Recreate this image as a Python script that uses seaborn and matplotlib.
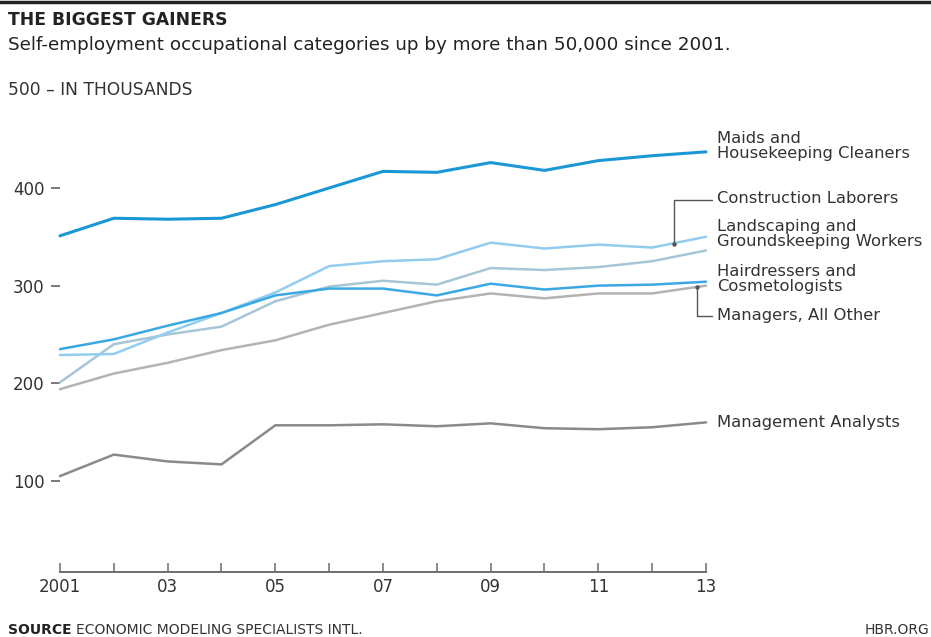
import matplotlib
matplotlib.use("Agg")
import matplotlib.pyplot as plt
from matplotlib.lines import Line2D
import pandas as pd
import seaborn as sns

# Self-employment by occupation, thousands
years = list(range(2001, 2014))
maids = [351, 369, 368, 369, 383, 400, 417, 416, 426, 418, 428, 433, 437]
construction = [229, 230, 252, 272, 293, 320, 325, 327, 344, 338, 342, 339, 350]
landscaping = [201, 240, 250, 258, 284, 299, 305, 301, 318, 316, 319, 325, 336]
hairdressers = [235, 245, 259, 272, 290, 297, 297, 290, 302, 296, 300, 301, 304]
managers_other = [194, 210, 221, 234, 244, 260, 272, 284, 292, 287, 292, 292, 300]
mgmt_analysts = [105, 127, 120, 117, 157, 157, 158, 156, 159, 154, 153, 155, 160]

series_names = ["Management Analysts", "Managers, All Other", "Landscaping and\nGroundskeeping Workers",
                "Construction Laborers", "Hairdressers and\nCosmetologists",
                "Maids and\nHousekeeping Cleaners"]
series_values = [mgmt_analysts, managers_other, landscaping, construction, hairdressers, maids]
series_colors = ["#8a8a8a", "#b3b3b3", "#a6c6d6", "#92ccef", "#3aa8e2", "#1a98d5"]
series_widths = [1.8, 1.8, 1.8, 1.8, 1.8, 2.2]

x_labels = ["2001", "", "03", "", "05", "", "07", "", "09", "", "11", "", "13"]
y_ticks = [100, 200, 300, 400]

# y-position (px from top) of each right-hand label, in series order
label_px = [422, 316, 234, 199, 279, 146]

df = pd.DataFrame({
    "year": [y for vals in series_values for y in years],
    "value": [v for vals in series_values for v in vals],
    "series": [n for n, vals in zip(series_names, series_values) for _ in vals],
})

sns.set_style("white")
plt.rcParams["font.family"] = ["DejaVu Sans"]

W, H = 931, 637
fig = plt.figure(figsize=(W / 100, H / 100), dpi=100)
ax = fig.add_axes([60 / W, 1 - 572 / H, (706 - 60) / W, (572 - 90.3) / H])


def fx(px):
    return px / W


def fy(py):
    return 1 - py / H


sns.lineplot(data=df, x="year", y="value", hue="series", hue_order=series_names,
             palette=dict(zip(series_names, series_colors)), legend=False, ax=ax)
for line, lw in zip(ax.lines, series_widths):
    line.set_linewidth(lw)
    line.set_clip_on(False)
    line.set_solid_joinstyle("round")

ax.set_xlim(2001, 2013)
ax.set_ylim(6.8, 500)
ax.set_xticks(years)
ax.set_xticklabels(x_labels)
ax.set_yticks(y_ticks)
ax.set_yticklabels([str(v) for v in y_ticks])
ax.set_xlabel("")
ax.set_ylabel("")
for s in ["top", "right", "left"]:
    ax.spines[s].set_visible(False)
ax.spines["bottom"].set_color("#6e6e6e")
ax.spines["bottom"].set_linewidth(1.4)
ax.tick_params(axis="x", bottom=True, direction="in", length=6.5, width=1.1, color="#6e6e6e",
               labelsize=12, labelcolor="#333333", pad=4)
ax.tick_params(axis="y", left=True, direction="out", length=6.5, width=1.1, color="#555555",
               labelsize=12, labelcolor="#333333", pad=4.5)
ax.grid(False)

# Right-hand series labels
for name, py in zip(series_names, label_px):
    fig.text(fx(717), fy(py), name, ha="left", va="center", fontsize=11.8,
             color="#333333", linespacing=0.95)

# Leader lines for the crowded labels
lc = "#555555"
fig.add_artist(Line2D([fx(674), fx(674), fx(712)], [fy(244), fy(199.5), fy(199.5)],
                      color=lc, lw=1.0))
fig.add_artist(Line2D([fx(674)], [fy(244)], marker="o", ms=2.2, color=lc))
fig.add_artist(Line2D([fx(697), fx(697), fx(712)], [fy(287), fy(315.5), fy(315.5)],
                      color=lc, lw=1.0))
fig.add_artist(Line2D([fx(697)], [fy(287)], marker="o", ms=2.2, color=lc))

# Header
fig.add_artist(Line2D([0, 1], [fy(1.5), fy(1.5)], color="#222222", lw=2.5))
fig.text(fx(8), fy(20), "THE BIGGEST GAINERS", ha="left", va="center",
         fontsize=12.3, fontweight="bold", color="#222222")
fig.text(fx(8), fy(45), "Self-employment occupational categories up by more than 50,000 since 2001.",
         ha="left", va="center", fontsize=13.2, color="#222222")
fig.text(fx(8), fy(90), "500 \u2013 IN THOUSANDS", ha="left", va="center",
         fontsize=12.3, color="#333333")

# Footer
src = fig.text(fx(8), fy(630), "SOURCE", ha="left", va="center", fontsize=10,
               fontweight="bold", color="#222222")
fig.canvas.draw()
bb = src.get_window_extent()
fig.text(bb.x1 / W + fx(4), fy(630), "ECONOMIC MODELING SPECIALISTS INTL.", ha="left",
         va="center", fontsize=10, color="#333333")
fig.text(fx(929), fy(630), "HBR.ORG", ha="right", va="center", fontsize=10, color="#333333")

fig.savefig("out.png", dpi=100, facecolor="white")
